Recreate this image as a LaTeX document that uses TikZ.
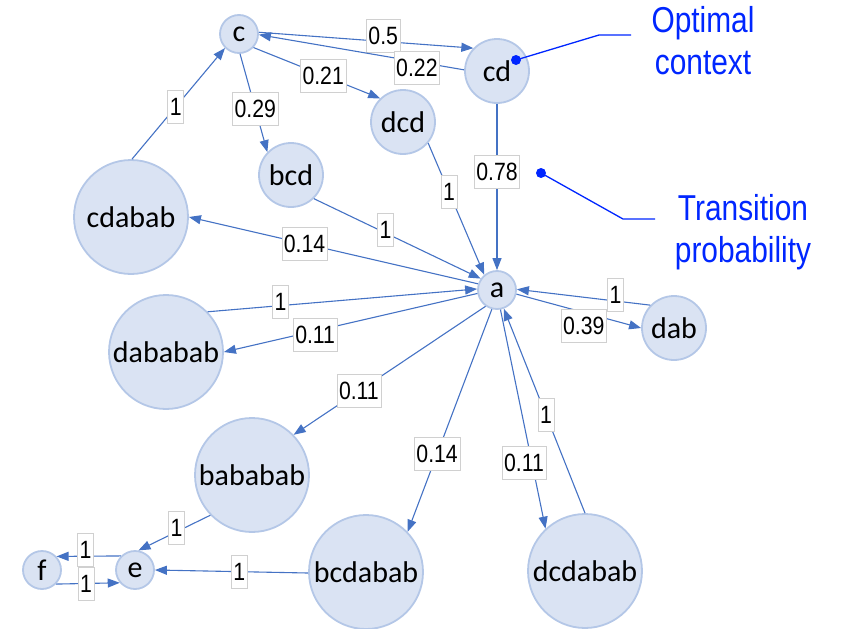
\documentclass[tikz,border=0pt]{standalone}
\usepackage{fontspec}
\setmainfont{Carlito}
\newfontfamily\labfont[FakeStretch=0.85]{Liberation Sans}
\newfontfamily\notefont[FakeStretch=0.83]{Liberation Sans}
\usetikzlibrary{arrows.meta}
\definecolor{nodefill}{HTML}{DAE3F3}
\definecolor{nodeline}{HTML}{B4C7E7}
\definecolor{edgeblue}{HTML}{4472C4}
\definecolor{noteblue}{RGB}{0,38,255}
\definecolor{boxline}{HTML}{D0D0D0}

\begin{document}
\begin{tikzpicture}[x=1pt,y=-1pt,
  state/.style={circle, fill=nodefill, draw=nodeline, line width=1.8pt, inner sep=0pt,
    font=\fontsize{30}{36}\selectfont},
  small/.style={state, minimum size=38pt},
  mid/.style={state, minimum size=64pt},
  big/.style={state, minimum size=114pt},
  edge/.style={draw=edgeblue, line width=1.1pt, -{Triangle[length=12pt,width=9pt]}},
  prob/.style={fill=white, draw=boxline, line width=0.6pt,
    font=\labfont\fontsize{25}{30}\selectfont, inner xsep=2pt, inner ysep=0pt,
    minimum height=33pt},
  note/.style={font=\notefont\fontsize{36}{42}\selectfont, text=noteblue, anchor=base},
  lead/.style={draw=noteblue, line width=1.3pt},
]
\useasboundingbox (0,0) rectangle (841,629);

% states
\node[small] (c)       at (239,34)  {c};
\node[mid]   (cd)      at (497,71)  {cd};
\node[mid]   (dcd)     at (403,122) {dcd};
\node[mid]   (bcd)     at (291,175) {bcd};
\node[big]   (cdabab)  at (131,217) {cdabab};
\node[small] (a)       at (497,290) {a};
\node[big]   (dababab) at (166,352) {dababab};
\node[mid]   (dab)     at (674,328) {dab};
\node[big]   (bababab) at (252,475) {bababab};
\node[big]   (bcdabab) at (366,572) {bcdabab};
\node[big]   (dcdabab) at (585,571) {dcdabab};
\node[small] (e)       at (135,570) {e};
\node[small] (f)       at (42,570)  {f};

% transitions
\draw[edge] (cdabab.89) -- node[prob, pos=0.47] {1} (c.225);
\draw[edge] (c.5) -- node[prob, pos=0.58, yshift=6pt] {0.5} (cd.136);
\draw[edge] (cd.178) -- node[prob, pos=0.23, yshift=-6pt] {0.22} (c.-2);
\draw[edge] (c.-87) -- node[prob, pos=0.56] {0.29} (bcd.136);
\draw[edge] (c.-43) -- node[prob, pos=0.55] {0.21} (dcd.134);
\draw[edge] (dcd.-40) -- node[prob, pos=0.37] {1} (a.130);
\draw[edge] (cd.south) -- node[prob, pos=0.41] {0.78} (a.north);
\draw[edge] (bcd.-46) -- node[prob, pos=0.43, yshift=3pt] {1} (a.145);
\draw[edge] (a.162) -- node[prob, pos=0.6] {0.14} (cdabab.0);
\draw[edge] (dababab.44) -- node[prob, pos=0.27, yshift=4pt] {1} (a.177);
\draw[edge] (a.190) -- node[prob, pos=0.64, yshift=-4pt] {0.11} (dababab.0);
\draw[edge] (dab.136) -- node[prob, pos=0.26, yshift=6pt] {1} (a.2);
\draw[edge] (a.-12) -- node[prob, pos=0.54, yshift=-13pt] {0.39} (dab.180);
\draw[edge] (a.-125) -- node[prob, pos=0.66] {0.11} (bababab.44);
\draw[edge] (a.-105) -- node[prob, pos=0.65] {0.14} (bcdabab.44);
\draw[edge] (a.-80) -- node[prob, pos=0.7, xshift=-8pt] {0.11} (dcdabab.133);
\draw[edge] (dcdabab.90) -- node[prob, pos=0.48] {1} (a.-70);
\draw[edge] (bababab.224) -- node[prob, pos=0.47, yshift=4pt] {1} (e.80);
\draw[edge] (bcdabab.181) -- node[prob, pos=0.45] {1} (e.0);
\draw[edge] (e.135) -- node[prob, pos=0.55, yshift=6pt] {1} (f.43);
\draw[edge] (f.-45) -- node[prob, pos=0.47] {1} (e.-140);

% annotations
\coordinate (optdot)  at (516,60);
\coordinate (optbend) at (599,35);
\coordinate (optend)  at (631,35);
\draw[lead] (optdot) -- (optbend) -- (optend);
\fill[noteblue] (optdot) circle (5pt);
\node[note] (opt1) at (703,32) {Optimal};
\node[note] (opt2) at (703,74) {context};

\coordinate (trdot)  at (541,173);
\coordinate (trbend) at (623,219);
\coordinate (trend)  at (655,219);
\draw[lead] (trdot) -- (trbend) -- (trend);
\fill[noteblue] (trdot) circle (5pt);
\node[note] (tr1) at (743,220) {Transition};
\node[note] (tr2) at (743,262) {probability};
\end{tikzpicture}
\end{document}
